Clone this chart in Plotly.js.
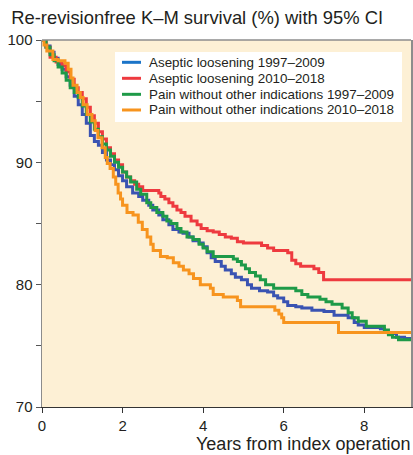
<!DOCTYPE html>
<html>
<head>
<meta charset="utf-8">
<script src="https://cdn.plot.ly/plotly-3.0.1.min.js"></script>
<style>html,body{margin:0;padding:0;background:#fff;}#chart{width:413px;height:455px;}</style>
</head>
<body>
<div id="chart"></div>
<script>
// Series names
const seriesNames = [
  "Aseptic loosening 1997–2009",
  "Aseptic loosening 2010–2018",
  "Pain without other indications 1997–2009",
  "Pain without other indications 2010–2018"
];

// Aseptic loosening 1997–2009 (blue)
const blueT = [0,0.1,0.2,0.3,0.4,0.5,0.6,0.7,0.8,0.9,1.0,1.1,1.2,1.3,1.4,1.5,1.6,1.7,1.8,1.9,2.0,2.1,2.25,2.4,2.5,2.65,2.75,2.9,3.0,3.15,3.25,3.4,3.5,3.65,3.75,3.9,4.0,4.1,4.2,4.3,4.45,4.55,4.7,4.8,4.95,5.1,5.2,5.4,5.6,5.75,5.85,6.0,6.1,6.3,6.45,6.7,7.0,7.25,7.6,7.75,7.85,8.0,8.4,8.5,8.6,8.8,9.0,9.16];
const blueS = [100,99.5,99.0,98.5,98.0,97.6,97.0,96.3,95.4,94.7,93.9,93.2,92.2,91.7,91.4,90.8,90.2,89.8,89.4,88.9,88.5,88.0,87.5,87.2,86.9,86.5,86.1,85.7,85.3,84.9,84.5,84.3,84.2,83.9,83.6,83.4,83.1,82.6,82.2,81.9,81.5,81.2,80.9,80.6,80.4,80.0,79.7,79.5,79.4,79.1,78.9,78.6,78.3,78.2,78.1,77.9,77.8,77.5,77.3,76.9,76.7,76.5,76.4,76.1,76.0,75.7,75.6,75.6];

// Aseptic loosening 2010–2018 (red)
const redT = [0,0.1,0.2,0.35,0.5,0.6,0.7,0.8,0.9,1.0,1.1,1.2,1.3,1.4,1.5,1.6,1.7,1.8,1.9,2.0,2.1,2.2,2.3,2.4,2.5,2.9,2.95,3.05,3.15,3.25,3.35,3.45,3.55,3.7,3.85,3.95,4.1,4.25,4.4,4.55,4.7,4.85,5.0,5.45,5.6,5.75,6.1,6.2,6.3,6.42,6.75,6.87,6.99,9.16];
const redS = [100,99.4,98.6,98.2,97.9,97.4,96.8,96.1,95.7,95.2,94.5,93.8,93.2,92.5,91.9,91.2,90.7,90.2,89.8,89.2,88.8,88.5,88.2,88.0,87.7,87.5,87.2,87.0,86.7,86.4,86.1,85.9,85.6,85.2,84.9,84.6,84.4,84.3,84.1,83.9,83.8,83.5,83.4,83.2,83.0,82.8,82.6,82.0,81.7,81.5,81.3,81.0,80.4,80.4];

// Pain without other indications 1997–2009 (green)
const greenT = [0,0.1,0.2,0.3,0.4,0.5,0.6,0.7,0.8,0.9,1.0,1.1,1.2,1.3,1.4,1.5,1.6,1.7,1.8,1.9,2.0,2.1,2.2,2.35,2.45,2.6,2.7,2.85,3.0,3.1,3.2,3.35,3.45,3.6,3.75,3.9,4.0,4.1,4.25,4.75,4.85,4.95,5.05,5.15,5.3,5.42,5.55,5.75,6.3,6.45,6.6,6.9,7.05,7.2,7.45,7.6,7.7,7.85,8.05,8.5,8.6,8.7,8.85,9.16];
const greenS = [100,99.4,98.8,98.3,97.8,97.3,96.7,96.1,95.7,95.3,94.6,93.9,93.3,92.7,92.1,91.5,91.0,90.5,90.0,89.6,89.2,88.8,88.4,87.8,87.4,86.7,86.3,85.9,85.6,85.2,85.0,84.6,84.3,83.9,83.7,83.3,83.0,82.7,82.3,82.1,81.9,81.6,81.3,81.0,80.7,80.4,80.0,79.7,79.5,79.2,79.0,78.8,78.6,78.4,78.1,77.7,77.3,77.0,76.6,76.3,75.9,75.7,75.5,75.5];

// Pain without other indications 2010–2018 (orange)
const orangeT = [0,0.05,0.12,0.27,0.4,0.57,0.65,0.72,0.77,0.87,0.95,1.02,1.12,1.24,1.32,1.39,1.49,1.57,1.62,1.69,1.77,1.83,1.89,1.95,2.0,2.11,2.26,2.39,2.49,2.61,2.7,2.76,2.94,3.11,3.26,3.4,3.51,3.65,3.76,3.93,4.18,4.25,4.5,4.85,4.93,5.78,5.88,5.95,6.0,7.36,9.16];
const orangeS = [100,99.6,99.1,98.4,98.3,98.1,97.6,96.9,96.3,95.7,95.3,94.7,93.9,93.4,92.6,92.0,91.2,90.4,89.9,89.5,88.8,88.2,87.5,87.0,86.5,85.9,85.7,85.1,84.5,83.9,83.3,82.8,82.3,82.2,81.8,81.5,81.2,80.9,80.5,80.0,79.7,79.2,79.0,78.7,78.2,77.9,77.6,77.3,76.9,76.1,76.1];

// Axis ticks
const xTicks = [0, 2, 4, 6, 8];
const yTicks = [70, 75, 80, 85, 90, 95, 100];
const yTickText = ["70", "", "80", "", "90", "", "100"];

const lineColors = ["#3a53b2", "#ee3a3f", "#1e9a48", "#f7941e"];
const legendColors = ["#1b74c8", "#ee3a3f", "#1e9a48", "#f7941e"];
const FONT = "Liberation Sans, Arial, Helvetica, sans-serif";
const TEXT = "#231f20";

const curves = [[blueT, blueS], [redT, redS], [greenT, greenS], [orangeT, orangeS]];
const traces = curves.map((c, i) => ({
  x: c[0], y: c[1], type: "scatter", mode: "lines", name: seriesNames[i],
  line: {color: lineColors[i], width: 3, shape: "hv"},
  showlegend: false, hoverinfo: "skip"
}));

// Legend drawn as box + line samples + labels (paper coordinates)
const legRowsY = [0.9392, 0.8956, 0.8520, 0.8093];
const shapes = [
  {type: "line", xref: "paper", yref: "paper", x0: 0, x1: 1, y0: 1, y1: 1,
   line: {color: "#8c8c8c", width: 1.5}},
  {type: "rect", xref: "paper", yref: "paper", x0: 0.1978, x1: 0.9756, y0: 0.7766, y1: 0.9673,
   fillcolor: "#ffffff", line: {width: 0}, layer: "above"}
];
const annotations = [{
  text: "Years from index operation", xref: "paper", yref: "paper",
  x: 1.003, xanchor: "right", y: -0.101, yanchor: "middle", showarrow: false,
  font: {size: 18, family: FONT, color: TEXT}
}];
seriesNames.forEach((n, i) => {
  shapes.push({type: "line", xref: "paper", yref: "paper", x0: 0.2168, x1: 0.2683,
    y0: legRowsY[i], y1: legRowsY[i], line: {color: legendColors[i], width: 3}, layer: "above"});
  annotations.push({text: n, xref: "paper", yref: "paper", x: 0.2846, xanchor: "left",
    y: legRowsY[i], yanchor: "middle", showarrow: false,
    font: {size: 13.4, family: FONT, color: TEXT}});
});

const layout = {
  width: 413, height: 455,
  margin: {l: 42, r: 2, t: 40, b: 48, pad: 0},
  paper_bgcolor: "#ffffff",
  plot_bgcolor: "#fdf0d5",
  font: {family: FONT, color: TEXT},
  showlegend: false,
  title: {
    text: "Re-revisionfree K–M survival (%) with 95% CI",
    x: 0.027, xanchor: "left", y: 0.962, yanchor: "middle",
    font: {size: 18.4, family: FONT, color: TEXT}
  },
  xaxis: {
    range: [0, 9.16], tickvals: xTicks, ticktext: xTicks.map(String),
    ticks: "outside", ticklen: 5, tickcolor: "#333", tickwidth: 1,
    showline: true, linecolor: "#333", linewidth: 1.2,
    showgrid: false, zeroline: false,
    tickfont: {size: 15, family: FONT, color: TEXT}
  },
  yaxis: {
    range: [70, 100], tickvals: yTicks, ticktext: yTickText,
    ticks: "outside", ticklen: 5, tickcolor: "#555", tickwidth: 1,
    showline: true, linecolor: "#8c8c8c", linewidth: 1.5, mirror: true,
    showgrid: false, zeroline: false,
    tickfont: {size: 15, family: FONT, color: TEXT}
  },
  shapes: shapes,
  annotations: annotations
};

Plotly.newPlot("chart", traces, layout, {displayModeBar: false, staticPlot: true});
</script>
</body>
</html>
